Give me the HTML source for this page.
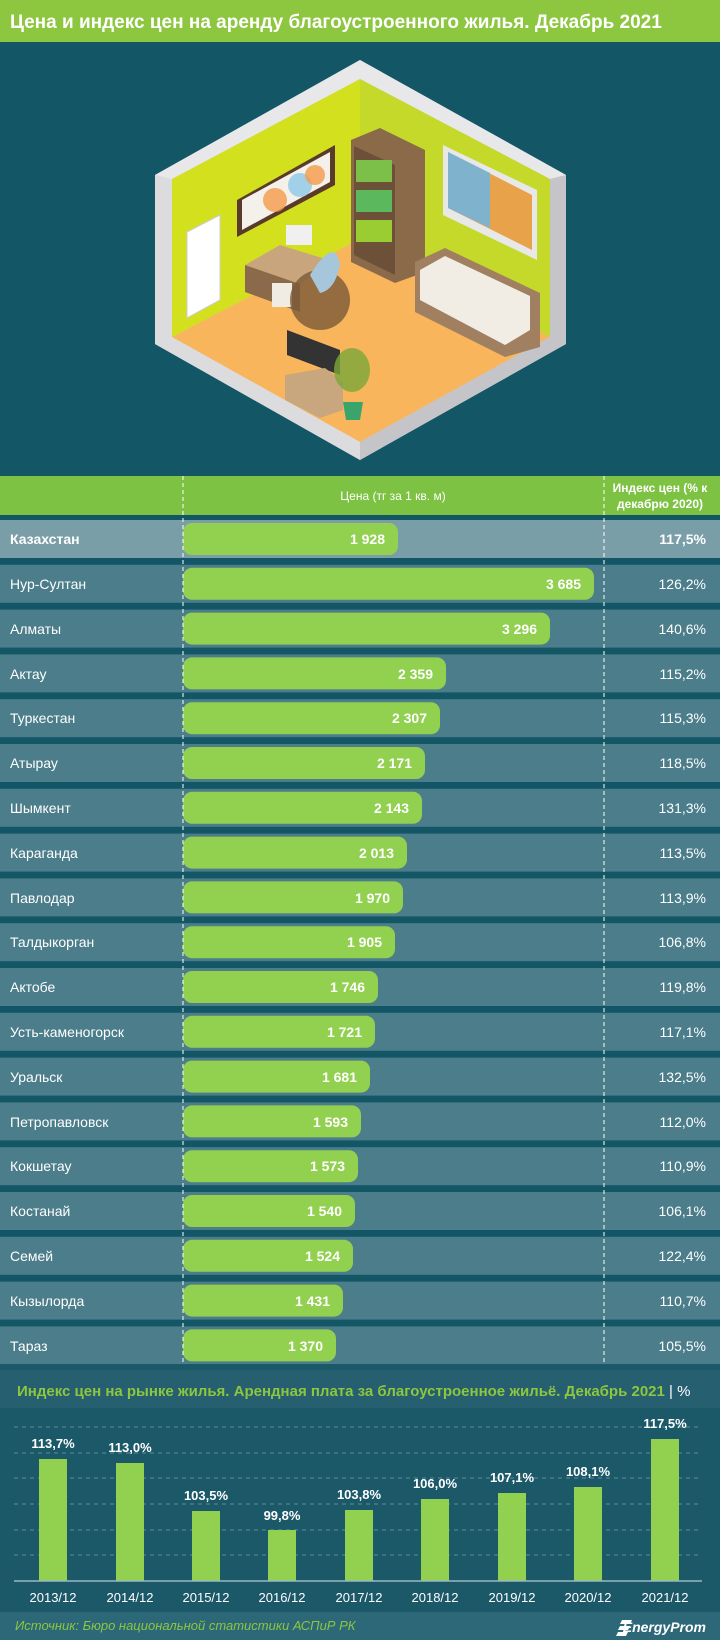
<!DOCTYPE html>
<html><head><meta charset="utf-8"><style>
html,body{margin:0;padding:0;background:#135767;}
svg{display:block;font-family:"Liberation Sans Narrow","Liberation Sans",sans-serif;}
</style></head><body>
<svg width="720" height="1640" viewBox="0 0 720 1640" xmlns="http://www.w3.org/2000/svg">
<rect x="0" y="0" width="720" height="1640" fill="#135767"/>
<!-- title -->
<rect x="0" y="0" width="720" height="42" fill="#8dc63f"/>
<text x="10" y="28" font-size="19" font-weight="bold" fill="#fff">Цена и индекс цен на аренду благоустроенного жилья. Декабрь 2021</text>
<!-- room -->
<polygon points="360,60 566,175 566,344 360,460 155,344 155,175" fill="#cfcfd3"/>
<polygon points="360,60 566,175 550,179 360,79 172,179 155,175" fill="#e8e8ea"/>
<polygon points="172,179 360,79 360,239 172,337" fill="#d3e01e"/>
<polygon points="360,79 550,179 550,337 360,239" fill="#c4d929"/>
<polygon points="360,239 550,337 360,442 172,337" fill="#f8b55c"/>
<polygon points="155,344 360,460 360,442 172,337 172,179 155,175" fill="#dcdcde"/>
<polygon points="566,344 360,460 360,442 550,337 550,179 566,175" fill="#c5c5c9"/>
<!-- door -->
<polygon points="187,232 220,215 220,300 187,318" fill="#fff" stroke="#ccc"/>
<!-- picture -->
<polygon points="237,200 335,145 335,185 237,237" fill="#5a3b2a"/>
<polygon points="242,200 330,152 330,182 242,230" fill="#f4f0ea"/>
<circle cx="275" cy="200" r="12" fill="#f59b4a" opacity=".8"/><circle cx="300" cy="185" r="12" fill="#8fc8e8" opacity=".8"/><circle cx="315" cy="175" r="10" fill="#f59b4a" opacity=".8"/>
<!-- bookshelf -->
<polygon points="351,140 380,128 425,150 425,272 395,283 351,262" fill="#8b6a4a"/>
<polygon points="354,146 395,165 395,275 354,255" fill="#6d5038"/>
<rect x="356" y="160" width="36" height="22" fill="#7cc04a"/><rect x="356" y="190" width="36" height="22" fill="#5cb85c"/><rect x="356" y="220" width="36" height="22" fill="#9acd32"/>
<!-- window -->
<polygon points="443,145 537,190 537,260 443,215" fill="#e8e8e8"/>
<polygon points="448,152 532,195 532,250 448,208" fill="#e8a24a"/>
<polygon points="448,152 490,173 490,228 448,208" fill="#7fb2cc"/>
<!-- desk -->
<polygon points="245,265 280,245 335,262 300,284" fill="#c9a57e"/>
<polygon points="245,265 300,284 300,312 245,292" fill="#8a6a4a"/>
<rect x="272" y="283" width="20" height="24" fill="#f0ece4"/>
<rect x="286" y="225" width="26" height="20" fill="#f0f0f0"/>
<circle cx="320" cy="300" r="30" fill="#7a5a3a" opacity=".8"/>
<path d="M310 275 q25 -40 30 -10 q-5 25 -20 28 z" fill="#a6c6dc"/>
<!-- sofa -->
<polygon points="415,262 445,248 540,293 540,347 505,357 415,312" fill="#a08060"/>
<polygon points="420,270 445,256 530,296 530,330 505,345 420,300" fill="#f2ede4"/>
<!-- tv -->
<polygon points="287,330 340,350 340,375 287,355" fill="#333"/>
<polygon points="285,375 325,368 343,382 343,410 320,418 285,400" fill="#c8a77e"/>
<!-- plant -->
<ellipse cx="352" cy="370" rx="18" ry="22" fill="#7aa83a" opacity=".8"/>
<path d="M343 402 h20 l-3 18 h-14 z" fill="#3aa46a"/>
<!-- header -->
<rect x="0" y="476" width="720" height="39" fill="#7dc242"/>
<text x="393" y="500" font-size="12" fill="#fff" text-anchor="middle">Цена (тг за 1 кв. м)</text>
<text x="660" y="492" font-size="12" font-weight="bold" fill="#fff" text-anchor="middle">Индекс цен (% к</text>
<text x="660" y="508" font-size="12" font-weight="bold" fill="#fff" text-anchor="middle">декабрю 2020)</text>
<g font-size="14" fill="#fff">
<rect x="0" y="520" width="720" height="38" fill="#7a9ea8"/>
<rect x="183" y="523" width="215" height="32" rx="9" fill="#92d050"/>
<text x="10" y="544" font-weight="bold">Казахстан</text><text x="385" y="544" text-anchor="end" font-weight="bold">1 928</text><text x="706" y="544" text-anchor="end" font-weight="bold">117,5%</text>

<rect x="0" y="564.8" width="720" height="38" fill="#4b7d8a"/><rect x="183" y="567.8" width="411" height="32" rx="9" fill="#92d050"/>
<text x="10" y="589">Нур-Султан</text><text x="581" y="589" text-anchor="end" font-weight="bold">3 685</text><text x="706" y="589" text-anchor="end">126,2%</text>

<rect x="0" y="609.6" width="720" height="38" fill="#4b7d8a"/><rect x="183" y="612.6" width="367" height="32" rx="9" fill="#92d050"/>
<text x="10" y="634">Алматы</text><text x="537" y="634" text-anchor="end" font-weight="bold">3 296</text><text x="706" y="634" text-anchor="end">140,6%</text>

<rect x="0" y="654.4" width="720" height="38" fill="#4b7d8a"/><rect x="183" y="657.4" width="263" height="32" rx="9" fill="#92d050"/>
<text x="10" y="679">Актау</text><text x="433" y="679" text-anchor="end" font-weight="bold">2 359</text><text x="706" y="679" text-anchor="end">115,2%</text>

<rect x="0" y="699.2" width="720" height="38" fill="#4b7d8a"/><rect x="183" y="702.2" width="257" height="32" rx="9" fill="#92d050"/>
<text x="10" y="723">Туркестан</text><text x="427" y="723" text-anchor="end" font-weight="bold">2 307</text><text x="706" y="723" text-anchor="end">115,3%</text>

<rect x="0" y="744" width="720" height="38" fill="#4b7d8a"/><rect x="183" y="747" width="242" height="32" rx="9" fill="#92d050"/>
<text x="10" y="768">Атырау</text><text x="412" y="768" text-anchor="end" font-weight="bold">2 171</text><text x="706" y="768" text-anchor="end">118,5%</text>

<rect x="0" y="788.8" width="720" height="38" fill="#4b7d8a"/><rect x="183" y="791.8" width="239" height="32" rx="9" fill="#92d050"/>
<text x="10" y="813">Шымкент</text><text x="409" y="813" text-anchor="end" font-weight="bold">2 143</text><text x="706" y="813" text-anchor="end">131,3%</text>

<rect x="0" y="833.6" width="720" height="38" fill="#4b7d8a"/><rect x="183" y="836.6" width="224" height="32" rx="9" fill="#92d050"/>
<text x="10" y="858">Караганда</text><text x="394" y="858" text-anchor="end" font-weight="bold">2 013</text><text x="706" y="858" text-anchor="end">113,5%</text>

<rect x="0" y="878.4" width="720" height="38" fill="#4b7d8a"/><rect x="183" y="881.4" width="220" height="32" rx="9" fill="#92d050"/>
<text x="10" y="903">Павлодар</text><text x="390" y="903" text-anchor="end" font-weight="bold">1 970</text><text x="706" y="903" text-anchor="end">113,9%</text>

<rect x="0" y="923.2" width="720" height="38" fill="#4b7d8a"/><rect x="183" y="926.2" width="212" height="32" rx="9" fill="#92d050"/>
<text x="10" y="947">Талдыкорган</text><text x="382" y="947" text-anchor="end" font-weight="bold">1 905</text><text x="706" y="947" text-anchor="end">106,8%</text>

<rect x="0" y="968" width="720" height="38" fill="#4b7d8a"/><rect x="183" y="971" width="195" height="32" rx="9" fill="#92d050"/>
<text x="10" y="992">Актобе</text><text x="365" y="992" text-anchor="end" font-weight="bold">1 746</text><text x="706" y="992" text-anchor="end">119,8%</text>

<rect x="0" y="1012.8" width="720" height="38" fill="#4b7d8a"/><rect x="183" y="1015.8" width="192" height="32" rx="9" fill="#92d050"/>
<text x="10" y="1037">Усть-каменогорск</text><text x="362" y="1037" text-anchor="end" font-weight="bold">1 721</text><text x="706" y="1037" text-anchor="end">117,1%</text>

<rect x="0" y="1057.6" width="720" height="38" fill="#4b7d8a"/><rect x="183" y="1060.6" width="187" height="32" rx="9" fill="#92d050"/>
<text x="10" y="1082">Уральск</text><text x="357" y="1082" text-anchor="end" font-weight="bold">1 681</text><text x="706" y="1082" text-anchor="end">132,5%</text>

<rect x="0" y="1102.4" width="720" height="38" fill="#4b7d8a"/><rect x="183" y="1105.4" width="178" height="32" rx="9" fill="#92d050"/>
<text x="10" y="1127">Петропавловск</text><text x="348" y="1127" text-anchor="end" font-weight="bold">1 593</text><text x="706" y="1127" text-anchor="end">112,0%</text>

<rect x="0" y="1147.2" width="720" height="38" fill="#4b7d8a"/><rect x="183" y="1150.2" width="175" height="32" rx="9" fill="#92d050"/>
<text x="10" y="1171">Кокшетау</text><text x="345" y="1171" text-anchor="end" font-weight="bold">1 573</text><text x="706" y="1171" text-anchor="end">110,9%</text>

<rect x="0" y="1192" width="720" height="38" fill="#4b7d8a"/><rect x="183" y="1195" width="172" height="32" rx="9" fill="#92d050"/>
<text x="10" y="1216">Костанай</text><text x="342" y="1216" text-anchor="end" font-weight="bold">1 540</text><text x="706" y="1216" text-anchor="end">106,1%</text>

<rect x="0" y="1236.8" width="720" height="38" fill="#4b7d8a"/><rect x="183" y="1239.8" width="170" height="32" rx="9" fill="#92d050"/>
<text x="10" y="1261">Семей</text><text x="340" y="1261" text-anchor="end" font-weight="bold">1 524</text><text x="706" y="1261" text-anchor="end">122,4%</text>

<rect x="0" y="1281.6" width="720" height="38" fill="#4b7d8a"/><rect x="183" y="1284.6" width="160" height="32" rx="9" fill="#92d050"/>
<text x="10" y="1306">Кызылорда</text><text x="330" y="1306" text-anchor="end" font-weight="bold">1 431</text><text x="706" y="1306" text-anchor="end">110,7%</text>

<rect x="0" y="1326.4" width="720" height="38" fill="#4b7d8a"/><rect x="183" y="1329.4" width="153" height="32" rx="9" fill="#92d050"/>
<text x="10" y="1351">Тараз</text><text x="323" y="1351" text-anchor="end" font-weight="bold">1 370</text><text x="706" y="1351" text-anchor="end">105,5%</text>
</g>
<line x1="183" y1="476" x2="183" y2="1364" stroke="#fff" stroke-width="1" stroke-dasharray="4,3"/>
<line x1="604" y1="476" x2="604" y2="1364" stroke="#fff" stroke-width="1" stroke-dasharray="4,3"/>
<!-- lower chart -->
<rect x="0" y="1364" width="720" height="248" fill="#1b5868"/>
<rect x="0" y="1370" width="720" height="38" fill="#265f6f"/>
<text x="17" y="1396" font-size="15" font-weight="bold" fill="#8dc63f">Индекс цен на рынке жилья. Арендная плата за благоустроенное жильё. Декабрь 2021 <tspan fill="#fff" font-weight="normal">| %</tspan></text>
<g stroke="#5f8e9a" stroke-width="1" stroke-dasharray="4,4">
<line x1="14" y1="1427" x2="702" y2="1427"/><line x1="14" y1="1453" x2="702" y2="1453"/><line x1="14" y1="1478" x2="702" y2="1478"/><line x1="14" y1="1504" x2="702" y2="1504"/><line x1="14" y1="1530" x2="702" y2="1530"/><line x1="14" y1="1555" x2="702" y2="1555"/>
</g>
<g fill="#92d050">
<rect x="39" y="1459" width="28" height="122"/><rect x="116" y="1463" width="28" height="118"/><rect x="192" y="1511" width="28" height="70"/><rect x="268" y="1530" width="28" height="51"/><rect x="345" y="1510" width="28" height="71"/><rect x="421" y="1499" width="28" height="82"/><rect x="498" y="1493" width="28" height="88"/><rect x="574" y="1487" width="28" height="94"/><rect x="651" y="1439" width="28" height="142"/>
</g>
<line x1="14" y1="1581" x2="702" y2="1581" stroke="#9ab7bf" stroke-width="1.5"/>
<g font-size="13" font-weight="bold" fill="#fff" text-anchor="middle">
<text x="53" y="1448">113,7%</text><text x="130" y="1452">113,0%</text><text x="206" y="1500">103,5%</text><text x="282" y="1520">99,8%</text><text x="359" y="1499">103,8%</text><text x="435" y="1488">106,0%</text><text x="512" y="1482">107,1%</text><text x="588" y="1476">108,1%</text><text x="665" y="1428">117,5%</text>
</g>
<g font-size="13" fill="#fff" text-anchor="middle">
<text x="53" y="1602">2013/12</text><text x="130" y="1602">2014/12</text><text x="206" y="1602">2015/12</text><text x="282" y="1602">2016/12</text><text x="359" y="1602">2017/12</text><text x="435" y="1602">2018/12</text><text x="512" y="1602">2019/12</text><text x="588" y="1602">2020/12</text><text x="665" y="1602">2021/12</text>
</g>
<rect x="0" y="1612" width="720" height="28" fill="#2c6878"/>
<text x="15" y="1630" font-size="13" font-style="italic" fill="#8dc63f">Источник: Бюро национальной статистики АСПиР РК</text>
<text x="706" y="1632" font-size="14" font-style="italic" font-weight="bold" fill="#fff" text-anchor="end">EnergyProm</text>
<path d="M622 1620 h10 l-2 4 h-10 z M620 1626 h10 l-2 4 h-10 z M618 1632 h10 l-2 4 h-10 z" fill="#fff"/>
</svg>
</body></html>
